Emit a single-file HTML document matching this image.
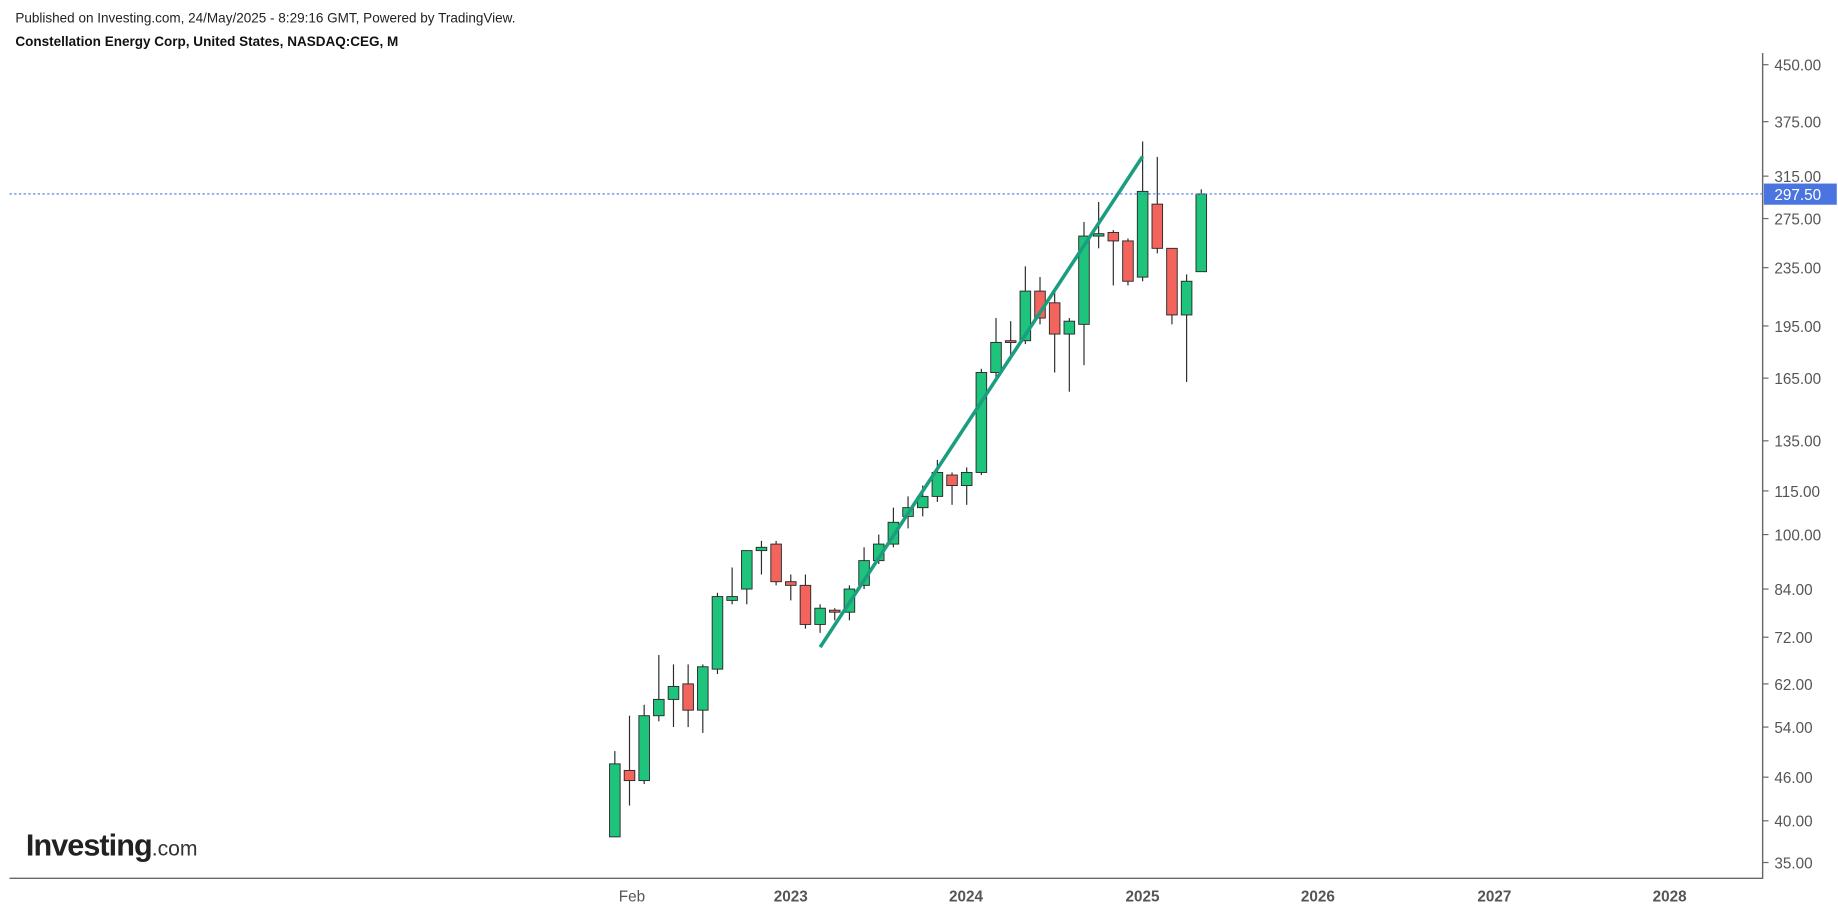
<!DOCTYPE html>
<html><head><meta charset="utf-8"><style>
html,body{margin:0;padding:0;background:#fff;width:1838px;height:910px;overflow:hidden}
svg{display:block}
text{font-family:"Liberation Sans",Arial,sans-serif}
</style></head><body>
<svg id="s" width="1838" height="910" viewBox="0 0 1562 773.4" xmlns="http://www.w3.org/2000/svg">
<text x="13" y="19" font-size="11.5" fill="#222">Published on Investing.com, 24/May/2025 - 8:29:16 GMT, Powered by TradingView.</text>
<text x="13" y="39" font-size="11.5" font-weight="bold" fill="#111">Constellation Energy Corp, United States, NASDAQ:CEG, M</text>
<line x1="1498" y1="45" x2="1498" y2="747" stroke="#666" stroke-width="1.2"/>
<line x1="8" y1="746.5" x2="1498" y2="746.5" stroke="#666" stroke-width="1.2"/>
<g id="yt" font-size="13" fill="#555"></g>
<g font-size="13" fill="#555" text-anchor="middle">
<text x="537" y="766">Feb</text><text x="672" y="766" font-weight="bold">2023</text>
<text x="821" y="766" font-weight="bold">2024</text><text x="971" y="766" font-weight="bold">2025</text>
<text x="1120" y="766" font-weight="bold">2026</text><text x="1270" y="766" font-weight="bold">2027</text>
<text x="1419" y="766" font-weight="bold">2028</text>
</g>
<g id="c"></g>
<line x1="697" y1="550" x2="971" y2="133" stroke="#1a9e7f" stroke-width="3"/>
<line x1="8" y1="164.8" x2="1498" y2="164.8" stroke="#4a74e0" stroke-width="1" stroke-dasharray="2,2"/>
<rect x="1499" y="156" width="62" height="18" fill="#4a74e0"/>
<text x="1508" y="170" font-size="13" fill="#fff">297.50</text>
<text x="22" y="727" font-size="26" font-weight="bold" fill="#222" letter-spacing="-0.8">Investing<tspan font-size="18" font-weight="normal" fill="#333" letter-spacing="0">.com</tspan></text>
</svg>
<script>
var ns="http://www.w3.org/2000/svg";
function Y(p){return 55+265.5*Math.log(450/p);}
var yt=document.getElementById('yt');
[450,375,315,275,235,195,165,135,115,100,84,72,62,54,46,40,35].forEach(function(p){
 var y=Y(p);
 var l=document.createElementNS(ns,'line');l.setAttribute('x1',1498);l.setAttribute('x2',1503);l.setAttribute('y1',y);l.setAttribute('y2',y);l.setAttribute('stroke','#666');yt.appendChild(l);
 var t=document.createElementNS(ns,'text');t.setAttribute('x',1508);t.setAttribute('y',y+5);t.textContent=p.toFixed(2);yt.appendChild(t);
});
var d=[[38,48,50,38],[47,45.5,56,42],[45.5,56,58,45],[56,59,68,55],[59,61.5,66,54],[62,57,66,54],[57,65.5,66,53],[65,82,83,64],[81,82,90,80],[84,95,95,80],[95,96,98,88],[97,86,98,85],[86,85,88,81],[85,75,88,74],[75,79,80,73],[78.5,78,79,76],[78,84,85,76],[85,92,96,84],[92,97,100,91],[97,104,109,96],[106,109,113,102],[109,113,117,106],[113,122,127,111],[121,117,122,110],[117,122,124,110],[122,168,170,121],[168,185,200,165],[186,185,198,178],[186,218,236,184],[218,200,228,196],[210,190,220,168],[190,198,200,158],[196,260,272,172],[260,262,290,250],[263,256,265,222],[256,225,258,222],[228,300,352,225],[288,250,335,246],[250,202,250,196],[202,225,230,163],[232,297.5,302,232]];
var g=document.getElementById('c');
d.forEach(function(c,i){
 var x=522.5+i*12.46,o=c[0],cl=c[1],h=c[2],lo=c[3],up=cl>=o;
 var w=document.createElementNS(ns,'line');w.setAttribute('x1',x);w.setAttribute('x2',x);w.setAttribute('y1',Y(h));w.setAttribute('y2',Y(lo));w.setAttribute('stroke','#2b2b2b');w.setAttribute('stroke-width',1);g.appendChild(w);
 var r=document.createElementNS(ns,'rect');var t=Y(Math.max(o,cl)),b=Y(Math.min(o,cl));
 r.setAttribute('x',x-4.5);r.setAttribute('width',9);r.setAttribute('y',t);r.setAttribute('height',Math.max(b-t,1.5));
 r.setAttribute('fill',up?'#1fc47c':'#f2645c');r.setAttribute('stroke','#2b2b2b');r.setAttribute('stroke-width',0.8);g.appendChild(r);
});
</script>
</body></html>
